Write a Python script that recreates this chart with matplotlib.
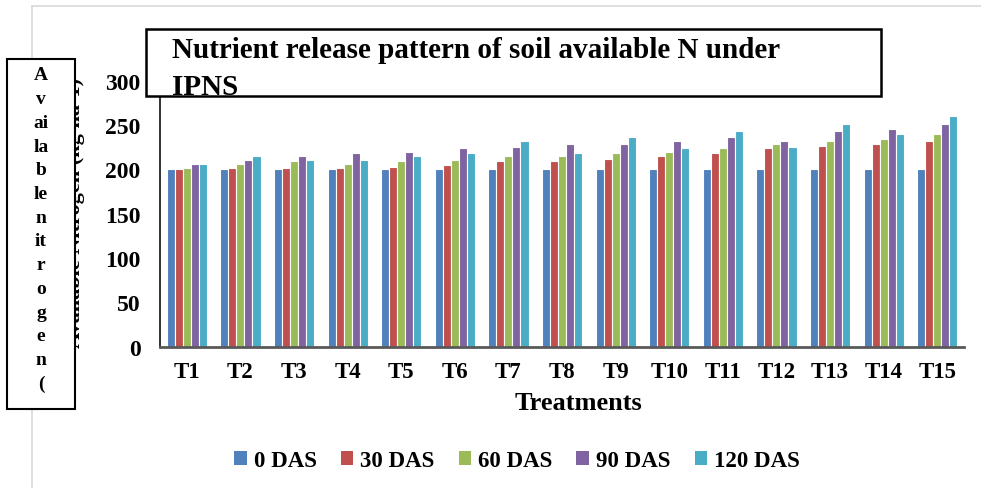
import numpy as np
import matplotlib
matplotlib.use("Agg")
import matplotlib.pyplot as plt
from matplotlib.patches import Rectangle, Patch
from matplotlib.lines import Line2D

treatments = ["T1", "T2", "T3", "T4", "T5", "T6", "T7", "T8", "T9", "T10",
              "T11", "T12", "T13", "T14", "T15"]
series_names = ["0 DAS", "30 DAS", "60 DAS", "90 DAS", "120 DAS"]
das0 = [200, 200, 200, 200, 200, 200, 200, 200, 200, 200, 200, 200, 200, 200, 200]
das30 = [200, 201.4, 201.4, 201.4, 203, 204.4, 209, 209, 211.5, 215, 218, 223.6, 226.5, 228, 232.2]
das60 = [201.4, 206, 209, 206, 209, 210.4, 215, 215, 218, 219.5, 223.6, 228, 232.2, 233.7, 240]
das90 = [206, 210.4, 215, 218, 219.5, 223.6, 225, 228, 228, 232.2, 236.8, 232.2, 242.8, 245.5, 251.4]
das120 = [206, 215, 210.4, 210.4, 215, 218, 232.2, 218, 236.8, 223.6, 242.8, 225, 251.4, 239.7, 260]
yticks = [0, 50, 100, 150, 200, 250, 300]
title_lines = ["Nutrient release pattern of soil available N under", "IPNS"]
xlabel = "Treatments"
ylabel = "Available Nitrogen (kg ha-1)"
ylabel_box_lines = ["A", "v", "ai", "la", "b", "le", "n", "it", "r", "o", "g", "e", "n", "("]

colors = ["#4F81BD", "#C0504D", "#9BBB59", "#8064A2", "#4BACC6"]
W, H = 981, 489
SERIF = ["Liberation Serif", "DejaVu Serif"]

fig = plt.figure(figsize=(W / 100, H / 100), dpi=100)
fig.patch.set_facecolor("white")


def fx(x):
    return x / W


def fy(y):
    return 1 - y / H


# outer light frame
fig.add_artist(Line2D([fx(32), fx(32)], [fy(7), fy(489)], transform=fig.transFigure,
                      color="#D9D9D9", lw=1.2))
fig.add_artist(Line2D([fx(32), fx(981)], [fy(7), fy(7)], transform=fig.transFigure,
                      color="#D9D9D9", lw=1.2))

left, right, top, bottom = 160, 964, 81.6, 347.7
ax = fig.add_axes([fx(left), fy(bottom), fx(right) - fx(left), (bottom - top) / H])

data = [das0, das30, das60, das90, das120]
x = np.arange(len(treatments))
bw = 0.15
for i, (vals, c, name) in enumerate(zip(data, colors, series_names)):
    ax.bar(x + (i - 2) * bw, vals, width=bw, color=c, edgecolor="white",
           linewidth=0.8, label=name, zorder=2)

ax.set_xlim(-0.5, len(treatments) - 0.5)
ax.set_ylim(0, 300)
ax.set_yticks(yticks)
ax.set_yticklabels([str(v) for v in yticks], fontfamily=SERIF, fontweight="bold", fontsize=17)
ax.set_xticks(x)
ax.set_xticklabels(treatments, fontfamily=SERIF, fontweight="bold", fontsize=16.5)
ax.tick_params(axis="y", length=0, pad=14)
ax.tick_params(axis="x", length=0, pad=10)
for s in ["top", "right"]:
    ax.spines[s].set_visible(False)
ax.spines["bottom"].set_color("#595959")
ax.spines["bottom"].set_linewidth(2)
ax.spines["left"].set_color("#222222")
ax.spines["left"].set_linewidth(1.3)
ax.set_facecolor("none")

# x label
fig.text(fx(578), fy(410), xlabel, ha="center", va="baseline", fontfamily=SERIF,
         fontweight="bold", fontsize=19)

# rotated y label (mostly hidden behind box)
fig.text(fx(85), fy(213), ylabel, rotation=90, ha="right", va="center",
         fontfamily=SERIF, fontweight="bold", fontsize=16, zorder=1)

# y label box with vertical text
fig.add_artist(Rectangle((fx(7), fy(410)), fx(75) - fx(7), (410 - 60) / H,
                         transform=fig.transFigure, facecolor="white",
                         edgecolor="black", lw=1.5, zorder=5))
for k, t in enumerate(ylabel_box_lines):
    fig.text(fx(41), fy(76 + k * 23.7), t, ha="center", va="center",
             fontfamily=SERIF, fontweight="bold", fontsize=14, zorder=6)

# title box
fig.add_artist(Rectangle((fx(146), fy(97)), fx(881) - fx(146), (97 - 30) / H,
                         transform=fig.transFigure, facecolor="white",
                         edgecolor="black", lw=1.8, zorder=5))
fig.text(fx(172), fy(58), title_lines[0], ha="left", va="baseline", fontfamily=SERIF,
         fontweight="bold", fontsize=21, zorder=6)
fig.text(fx(172), fy(95), title_lines[1], ha="left", va="baseline", fontfamily=SERIF,
         fontweight="bold", fontsize=21, zorder=6)

# legend
handles = [Patch(facecolor=c, edgecolor="none") for c in colors]
fig.legend(handles, series_names, loc="center", bbox_to_anchor=(fx(517), fy(462)),
           ncol=5, frameon=False, handlelength=0.55, handleheight=0.55,
           handletextpad=0.3, columnspacing=1.05,
           prop={"family": SERIF, "weight": "bold", "size": 16.5})

fig.savefig("out.png", dpi=100, facecolor="white")
